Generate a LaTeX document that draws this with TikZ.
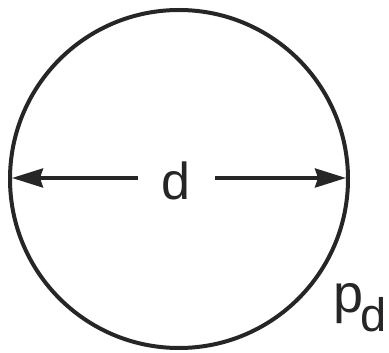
\documentclass[tikz,border=0pt]{standalone}
\usepackage{fontspec}
\setmainfont{Liberation Sans}
\usetikzlibrary{arrows.meta}
\tikzset{
  rim/.style={draw=black!85, line width=4pt},
  dimline/.style={draw=black!85, line width=3.5pt, -{Stealth[length=31pt,width=19pt,inset=3pt]}},
  lbl/.style={inner sep=0pt, text=black!85}
}
\begin{document}
\begin{tikzpicture}[x=1pt,y=1pt]
\useasboundingbox (0,0) rectangle (389,353);
\node[circle, rim, minimum size=338pt, inner sep=0pt] (c) at (179,174) {};
\coordinate (L) at (12,175);
\coordinate (R) at (346,175);
\node[lbl, anchor=base, font=\fontsize{52}{52}\selectfont] (d) at (176,153) {d};
\coordinate (dl) at (138,175);
\coordinate (dr) at (215,175);
\draw[dimline] (dl) -- (L);
\draw[dimline] (dr) -- (R);
\node[lbl, anchor=base, font=\fontsize{54}{54}\selectfont] (p) at (348.5,40) {p};
\node[lbl, anchor=base, font=\fontsize{47}{47}\selectfont] (pd) at (374,21) {d};
\end{tikzpicture}
\end{document}
